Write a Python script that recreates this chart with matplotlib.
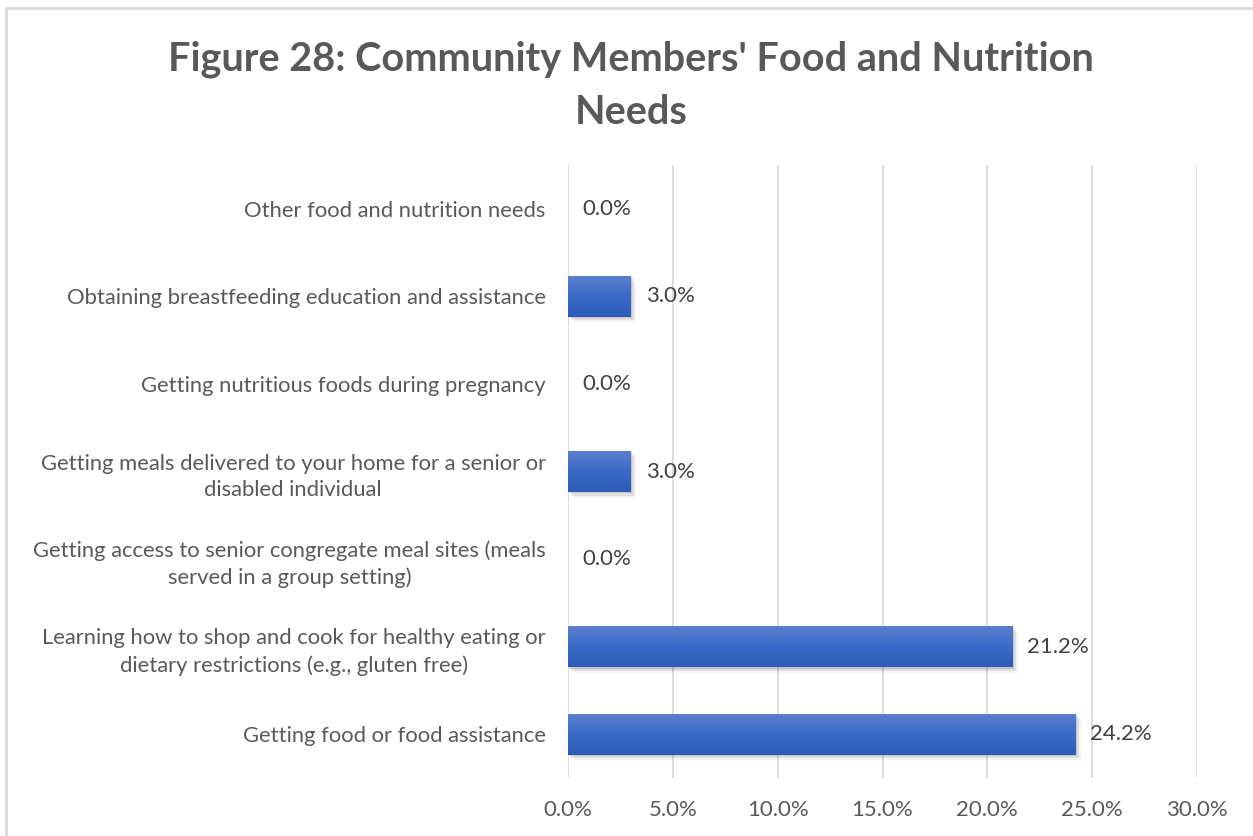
import matplotlib
matplotlib.use("Agg")
import matplotlib.pyplot as plt
import matplotlib.patheffects as pe
from matplotlib.colors import LinearSegmentedColormap
from matplotlib.patches import Rectangle
import numpy as np

# data, bottom to top as drawn
categories = [
    "Getting food or food assistance",
    "Learning how to shop and cook for healthy eating or\ndietary restrictions (e.g., gluten free)",
    "Getting access to senior congregate meal sites (meals\nserved in a group setting)",
    "Getting meals delivered to your home for a senior or\ndisabled individual",
    "Getting nutritious foods during pregnancy",
    "Obtaining breastfeeding education and assistance",
    "Other food and nutrition needs",
]
values = [24.2, 21.2, 0.0, 3.0, 0.0, 3.0, 0.0]
xticks = [0, 5, 10, 15, 20, 25, 30]

plt.rcParams['font.family'] = ['Lato', 'DejaVu Sans']

fig = plt.figure(figsize=(12.53, 8.36), dpi=100)
ax = fig.add_axes([568/1253, 1 - 778/836, 629/1253, 613/836])

# chart border (top and left visible)
fig.patches.append(Rectangle((6/1253, -0.1), 1.2, 1 - 8/836 + 0.1,
                             transform=fig.transFigure, fill=False,
                             edgecolor='#D9D9D9', linewidth=2))

grad = LinearSegmentedColormap.from_list('bar', ['#2C5CB5', '#3A6BC8', '#5C80CF'])
y = np.arange(len(categories))
h = 0.47
shadow = [pe.SimplePatchShadow(offset=(1, -1), alpha=0.18, shadow_rgbFace='#444444'),
          pe.SimplePatchShadow(offset=(2.5, -2.5), alpha=0.12, shadow_rgbFace='#444444'),
          pe.SimplePatchShadow(offset=(4, -4), alpha=0.06, shadow_rgbFace='#444444'),
          pe.Normal()]
bars = ax.barh(y, values, height=h, color='#3A6BC8', zorder=3, path_effects=shadow)
g = np.linspace(0, 1, 64).reshape(-1, 1)
for b, v, yy in zip(bars, values, y):
    if v > 0:
        im = ax.imshow(g, cmap=grad, origin='lower', aspect='auto',
                       extent=[0, v, yy - h/2, yy + h/2], zorder=4)
        im.set_clip_path(b)
    else:
        b.set_visible(False)
    ax.text(v + 0.7, yy, f"{v:.1f}%", va='center', ha='left',
            fontsize=16, color='#404040', zorder=5)

ax.set_xlim(0, 30)
ax.set_ylim(-0.5, len(categories) - 0.5)
ax.set_xticks(xticks)
ax.set_xticklabels([f"{t:.1f}%" for t in xticks], fontsize=16, color='#595959')
ax.set_yticks(y)
ax.set_yticklabels(categories, fontsize=15.8, color='#595959', linespacing=1.4)
ax.tick_params(axis='both', length=0)
ax.tick_params(axis='x', pad=16)
ax.tick_params(axis='y', pad=16)
for lbl in ax.get_yticklabels():
    lbl.set_multialignment('center')
ax.grid(axis='x', color='#D9D9D9', linewidth=1.3, zorder=0)
for s in ax.spines.values():
    s.set_visible(False)
ax.set_axisbelow(True)

fig.text(631/1253, 1 - 86/836,
         "Figure 28: Community Members' Food and Nutrition\nNeeds",
         ha='center', va='center', fontsize=28.5, fontweight='bold',
         color='#595959', linespacing=1.55)

fig.savefig('out.png', dpi=100)
